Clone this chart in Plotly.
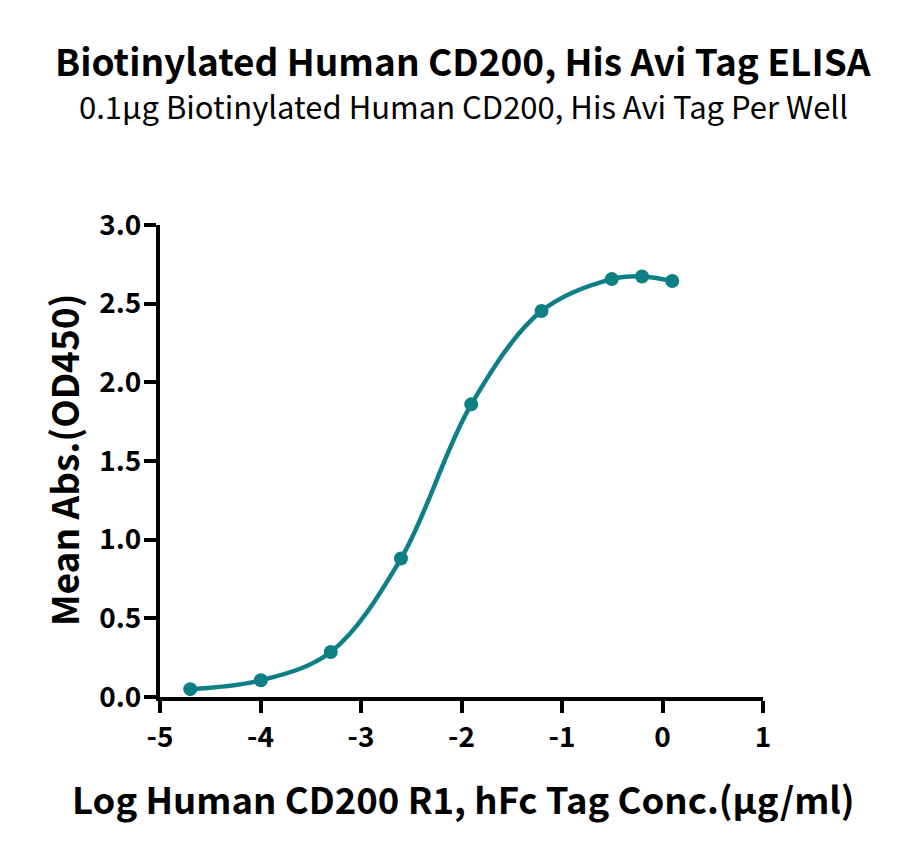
import plotly.graph_objects as go

# log10 concentration of Human CD200 R1, hFc Tag (ug/ml)
log_conc = [-4.699, -3.996, -3.301, -2.602, -1.903, -1.204, -0.505, -0.204, 0.097]
# mean absorbance at 450 nm
mean_abs = [0.05, 0.106, 0.286, 0.88, 1.86, 2.453, 2.656, 2.673, 2.644]

x_ticks = [-5, -4, -3, -2, -1, 0, 1]
y_ticks = [0.0, 0.5, 1.0, 1.5, 2.0, 2.5, 3.0]

teal = "#0f7f86"
font_family = "Noto Sans CJK SC"

# figure margins (pixels)
ml, mr, mt, mb = 152, 145, 217, 165
W, H = 900, 854
pw, ph = W - ml - mr, H - mt - mb


def px_x(x):
    # figure pixel -> paper x
    return (x - ml) / pw


def px_y(y):
    # figure pixel (from top) -> paper y
    return 1 - (y - mt) / ph


fig = go.Figure()

# smooth curve through the points
fig.add_trace(go.Scatter(
    x=log_conc, y=mean_abs, mode="lines",
    line=dict(color=teal, width=4.5, shape="spline", smoothing=1.0),
    hoverinfo="skip", cliponaxis=False,
))

# measured points
fig.add_trace(go.Scatter(
    x=log_conc, y=mean_abs, mode="markers",
    marker=dict(color=teal, size=14),
    cliponaxis=False,
))

fig.update_layout(
    width=W, height=H,
    margin=dict(l=ml, r=mr, t=mt, b=mb),
    plot_bgcolor="white", paper_bgcolor="white",
    showlegend=False,
    font=dict(family=font_family, color="black"),
    annotations=[
        dict(text="<b>Biotinylated Human CD200, His Avi Tag ELISA</b>",
             x=px_x(455), y=px_y(52), xref="paper", yref="paper",
             showarrow=False, yanchor="middle",
             font=dict(size=37, family=font_family)),
        dict(text="0.1µg Biotinylated Human CD200, His Avi Tag Per Well",
             x=px_x(455), y=px_y(98), xref="paper", yref="paper",
             showarrow=False, yanchor="middle",
             font=dict(size=31, family=font_family)),
        dict(text="<b>Log Human CD200 R1, hFc Tag Conc.(µg/ml)</b>",
             x=px_x(455), y=px_y(790), xref="paper", yref="paper",
             showarrow=False, yanchor="middle",
             font=dict(size=36.5, family=font_family)),
        dict(text="<b>Mean Abs.(OD450)</b>",
             x=px_x(55), y=px_y(452), xref="paper", yref="paper",
             showarrow=False, xanchor="center", yanchor="middle", textangle=-90,
             font=dict(size=37, family=font_family)),
    ],
)

fig.update_xaxes(
    range=[-5, 1], tickvals=x_ticks, ticktext=[str(v) for v in x_ticks],
    showline=True, linecolor="black", linewidth=4,
    ticks="outside", ticklen=12, tickwidth=4, tickcolor="black",
    showgrid=False, zeroline=False, automargin=False,
    tickfont=dict(size=28, family=font_family, weight="bold"),
)
fig.update_yaxes(
    range=[0, 3], tickvals=y_ticks, ticktext=[f"{v:.1f}" for v in y_ticks],
    showline=True, linecolor="black", linewidth=4,
    ticks="outside", ticklen=12, tickwidth=4, tickcolor="black",
    showgrid=False, zeroline=False, automargin=False,
    ticklabelstandoff=-3,
    tickfont=dict(size=28, family=font_family, weight="bold"),
)

fig.write_html("out.html")
